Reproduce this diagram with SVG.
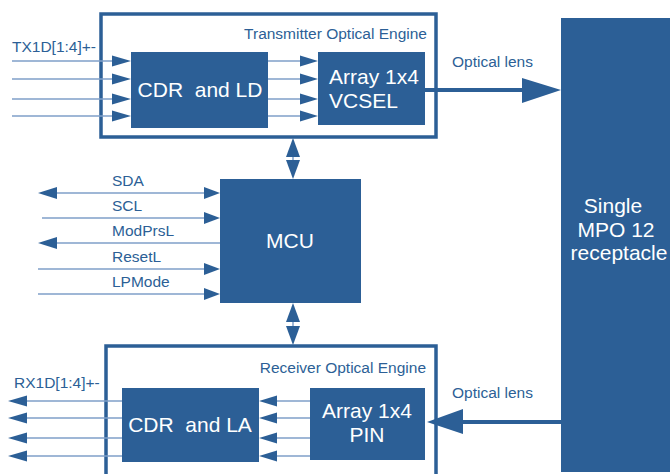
<svg xmlns="http://www.w3.org/2000/svg" width="670" height="474" viewBox="0 0 670 474">
<defs>
<style>
.box{fill:#2c5f96;}
.frame{fill:none;stroke:#2c5f96;stroke-width:3.5;}
.sig{stroke:#7f9fc8;stroke-width:1.5;fill:none;}
.thick{stroke:#2c5f96;stroke-width:4;fill:none;}
.ah{fill:#2c5f96;}
.lbl{font-family:"Liberation Sans",Arial,sans-serif;fill:#2c5f96;font-size:15.5px;}
.wt{font-family:"Liberation Sans",Arial,sans-serif;fill:#ffffff;font-size:21px;}
</style>
</defs>
<rect width="670" height="474" fill="#ffffff"/>

<g id="tx-engine">
<rect class="frame" x="101" y="14" width="335" height="123"/>
<text class="lbl" x="427" y="39" text-anchor="end">Transmitter Optical Engine</text>
</g>
<g id="cdr-ld">
<rect class="box" x="131" y="52" width="137" height="76"/>
<text class="wt" x="200" y="97" text-anchor="middle" xml:space="preserve">CDR  and LD</text>
</g>
<g id="vcsel">
<rect class="box" x="318" y="52" width="107" height="73"/>
<text class="wt" x="329" y="84">Array 1x4</text>
<text class="wt" x="329" y="108">VCSEL</text>
</g>
<g id="mcu">
<rect class="box" x="220" y="179" width="141" height="124"/>
<text class="wt" x="290" y="248" text-anchor="middle">MCU</text>
</g>
<g id="rx-engine">
<rect class="frame" x="106" y="346" width="330" height="140"/>
<text class="lbl" x="426" y="373" text-anchor="end">Receiver Optical Engine</text>
</g>
<g id="cdr-la">
<rect class="box" x="122" y="388" width="137" height="74"/>
<text class="wt" x="190" y="432" text-anchor="middle" xml:space="preserve">CDR  and LA</text>
</g>
<g id="pin">
<rect class="box" x="310" y="388" width="115" height="72"/>
<text class="wt" x="367" y="418" text-anchor="middle">Array 1x4</text>
<text class="wt" x="367" y="442" text-anchor="middle">PIN</text>
</g>
<g id="receptacle">
<rect class="box" x="561" y="18" width="112" height="454"/>
<text class="wt" x="613" y="213" text-anchor="middle" font-size="22">Single</text>
<text class="wt" x="616" y="237" text-anchor="middle" font-size="22">MPO 12</text>
<text class="wt" x="619" y="260" text-anchor="middle" font-size="22">receptacle</text>
</g>

<g id="connectors">
<!-- TX inputs -->
<text class="lbl" x="12" y="52">TX1D[1:4]+-</text>
<line class="sig" x1="12" y1="61" x2="114" y2="61"/>
<line class="sig" x1="12" y1="79" x2="114" y2="79"/>
<line class="sig" x1="12" y1="99" x2="114" y2="99"/>
<line class="sig" x1="12" y1="116" x2="114" y2="116"/>
<polygon class="ah" points="112,55.5 131,61 112,66.5"/>
<polygon class="ah" points="112,73.5 131,79 112,84.5"/>
<polygon class="ah" points="112,93.5 131,99 112,104.5"/>
<polygon class="ah" points="112,110.5 131,116 112,121.5"/>
<!-- CDR to VCSEL -->
<line class="sig" x1="268" y1="61" x2="302" y2="61"/>
<line class="sig" x1="268" y1="79" x2="302" y2="79"/>
<line class="sig" x1="268" y1="99" x2="302" y2="99"/>
<line class="sig" x1="268" y1="116" x2="302" y2="116"/>
<polygon class="ah" points="300,55.5 318,61 300,66.5"/>
<polygon class="ah" points="300,73.5 318,79 300,84.5"/>
<polygon class="ah" points="300,93.5 318,99 300,104.5"/>
<polygon class="ah" points="300,110.5 318,116 300,121.5"/>
<!-- optical out -->
<text class="lbl" x="452" y="67">Optical lens</text>
<line class="thick" x1="425" y1="90" x2="525" y2="90"/>
<polygon class="ah" points="522,78 561,90 522,103"/>
<!-- MCU vertical -->
<line class="sig" x1="293" y1="150" x2="293" y2="165"/>
<polygon class="ah" points="293,138 300,157 286,157"/>
<polygon class="ah" points="286,160 300,160 293,179"/>
<line class="sig" x1="293" y1="315" x2="293" y2="330"/>
<polygon class="ah" points="293,303 300,322 286,322"/>
<polygon class="ah" points="286,326 300,326 293,345"/>
<!-- MCU signals -->
<text class="lbl" x="112" y="186">SDA</text>
<text class="lbl" x="112" y="211">SCL</text>
<text class="lbl" x="112" y="236">ModPrsL</text>
<text class="lbl" x="112" y="262">ResetL</text>
<text class="lbl" x="112" y="287">LPMode</text>
<line class="sig" x1="50" y1="193" x2="208" y2="193"/>
<polygon class="ah" points="57,187 38,193 57,199"/>
<polygon class="ah" points="204,187 220,193 204,199"/>
<line class="sig" x1="42" y1="218" x2="208" y2="218"/>
<polygon class="ah" points="204,212 220,218 204,224"/>
<line class="sig" x1="50" y1="243" x2="220" y2="243"/>
<polygon class="ah" points="57,237 38,243 57,249"/>
<line class="sig" x1="38" y1="269" x2="208" y2="269"/>
<polygon class="ah" points="204,263 220,269 204,275"/>
<line class="sig" x1="38" y1="294" x2="208" y2="294"/>
<polygon class="ah" points="204,288 220,294 204,300"/>
<!-- RX outputs -->
<text class="lbl" x="14" y="388">RX1D[1:4]+-</text>
<line class="sig" x1="24" y1="401" x2="122" y2="401"/>
<line class="sig" x1="24" y1="418" x2="122" y2="418"/>
<line class="sig" x1="24" y1="438" x2="122" y2="438"/>
<line class="sig" x1="24" y1="456" x2="122" y2="456"/>
<polygon class="ah" points="27,395.5 8,401 27,406.5"/>
<polygon class="ah" points="27,412.5 8,418 27,423.5"/>
<polygon class="ah" points="27,432.5 8,438 27,443.5"/>
<polygon class="ah" points="27,450.5 8,456 27,461.5"/>
<!-- PIN to CDR -->
<line class="sig" x1="275" y1="401" x2="310" y2="401"/>
<line class="sig" x1="275" y1="418" x2="310" y2="418"/>
<line class="sig" x1="275" y1="438" x2="310" y2="438"/>
<line class="sig" x1="275" y1="456" x2="310" y2="456"/>
<polygon class="ah" points="277,395.5 259,401 277,406.5"/>
<polygon class="ah" points="277,412.5 259,418 277,423.5"/>
<polygon class="ah" points="277,432.5 259,438 277,443.5"/>
<polygon class="ah" points="277,450.5 259,456 277,461.5"/>
<!-- optical in -->
<text class="lbl" x="452" y="398">Optical lens</text>
<line class="thick" x1="561" y1="422" x2="460" y2="422"/>
<polygon class="ah" points="463,409 427,422 463,434"/>
</g>
</svg>
